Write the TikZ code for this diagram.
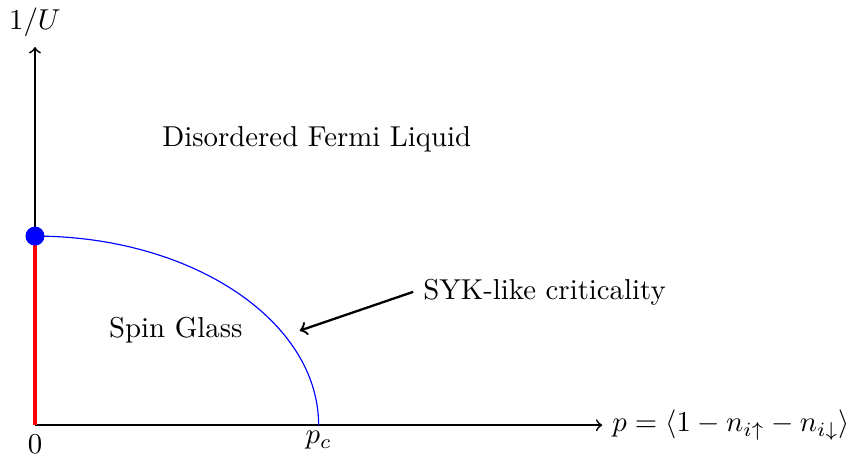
\documentclass[tikz,border=0pt]{standalone}
\begin{document}
\begin{tikzpicture}[x=1.1545cm,y=1.1545cm,
  axis/.style={semithick,->},
  boundary/.style={blue,thin},
  glassline/.style={red,line width=1.5pt},
  critdot/.style={circle,fill=blue,inner sep=0pt,minimum size=6.6pt},
  pointer/.style={thick,->}]
\useasboundingbox (-0.37,-0.317) rectangle (8.62,4.497);
\coordinate (O) at (0,0);
\coordinate (ytop) at (0,4);
\coordinate (xend) at (6,0);
\coordinate (Q) at (0,2);
\coordinate (P) at (3,0);
\coordinate (tip) at (2.8,1.0);
\draw[axis] (O) -- (ytop);
\draw[axis] (O) -- (xend);
\draw[glassline] (O) -- (Q);
\draw[boundary] (Q) arc[start angle=90,end angle=0,x radius=3,y radius=2];
\node[critdot] (dot) at (Q) {};
\node[anchor=south] (ylab) at (ytop) {$1/U$};
\node[anchor=west] (xlab) at (xend) {$p=\langle 1-n_{i\uparrow}-n_{i\downarrow}\rangle$};
\node[anchor=north] (zero) at (O) {$0$};
\node[anchor=north,inner sep=2pt] (pc) at (P) {$p_c$};
\node (dfl) at (2.98,3.02) {Disordered Fermi Liquid};
\node (sg) at (1.49,1.0) {Spin Glass};
\node[anchor=west] (syk) at (4.0,1.41) {SYK-like criticality};
\draw[pointer] (syk.west) -- (tip);
\end{tikzpicture}
\end{document}
